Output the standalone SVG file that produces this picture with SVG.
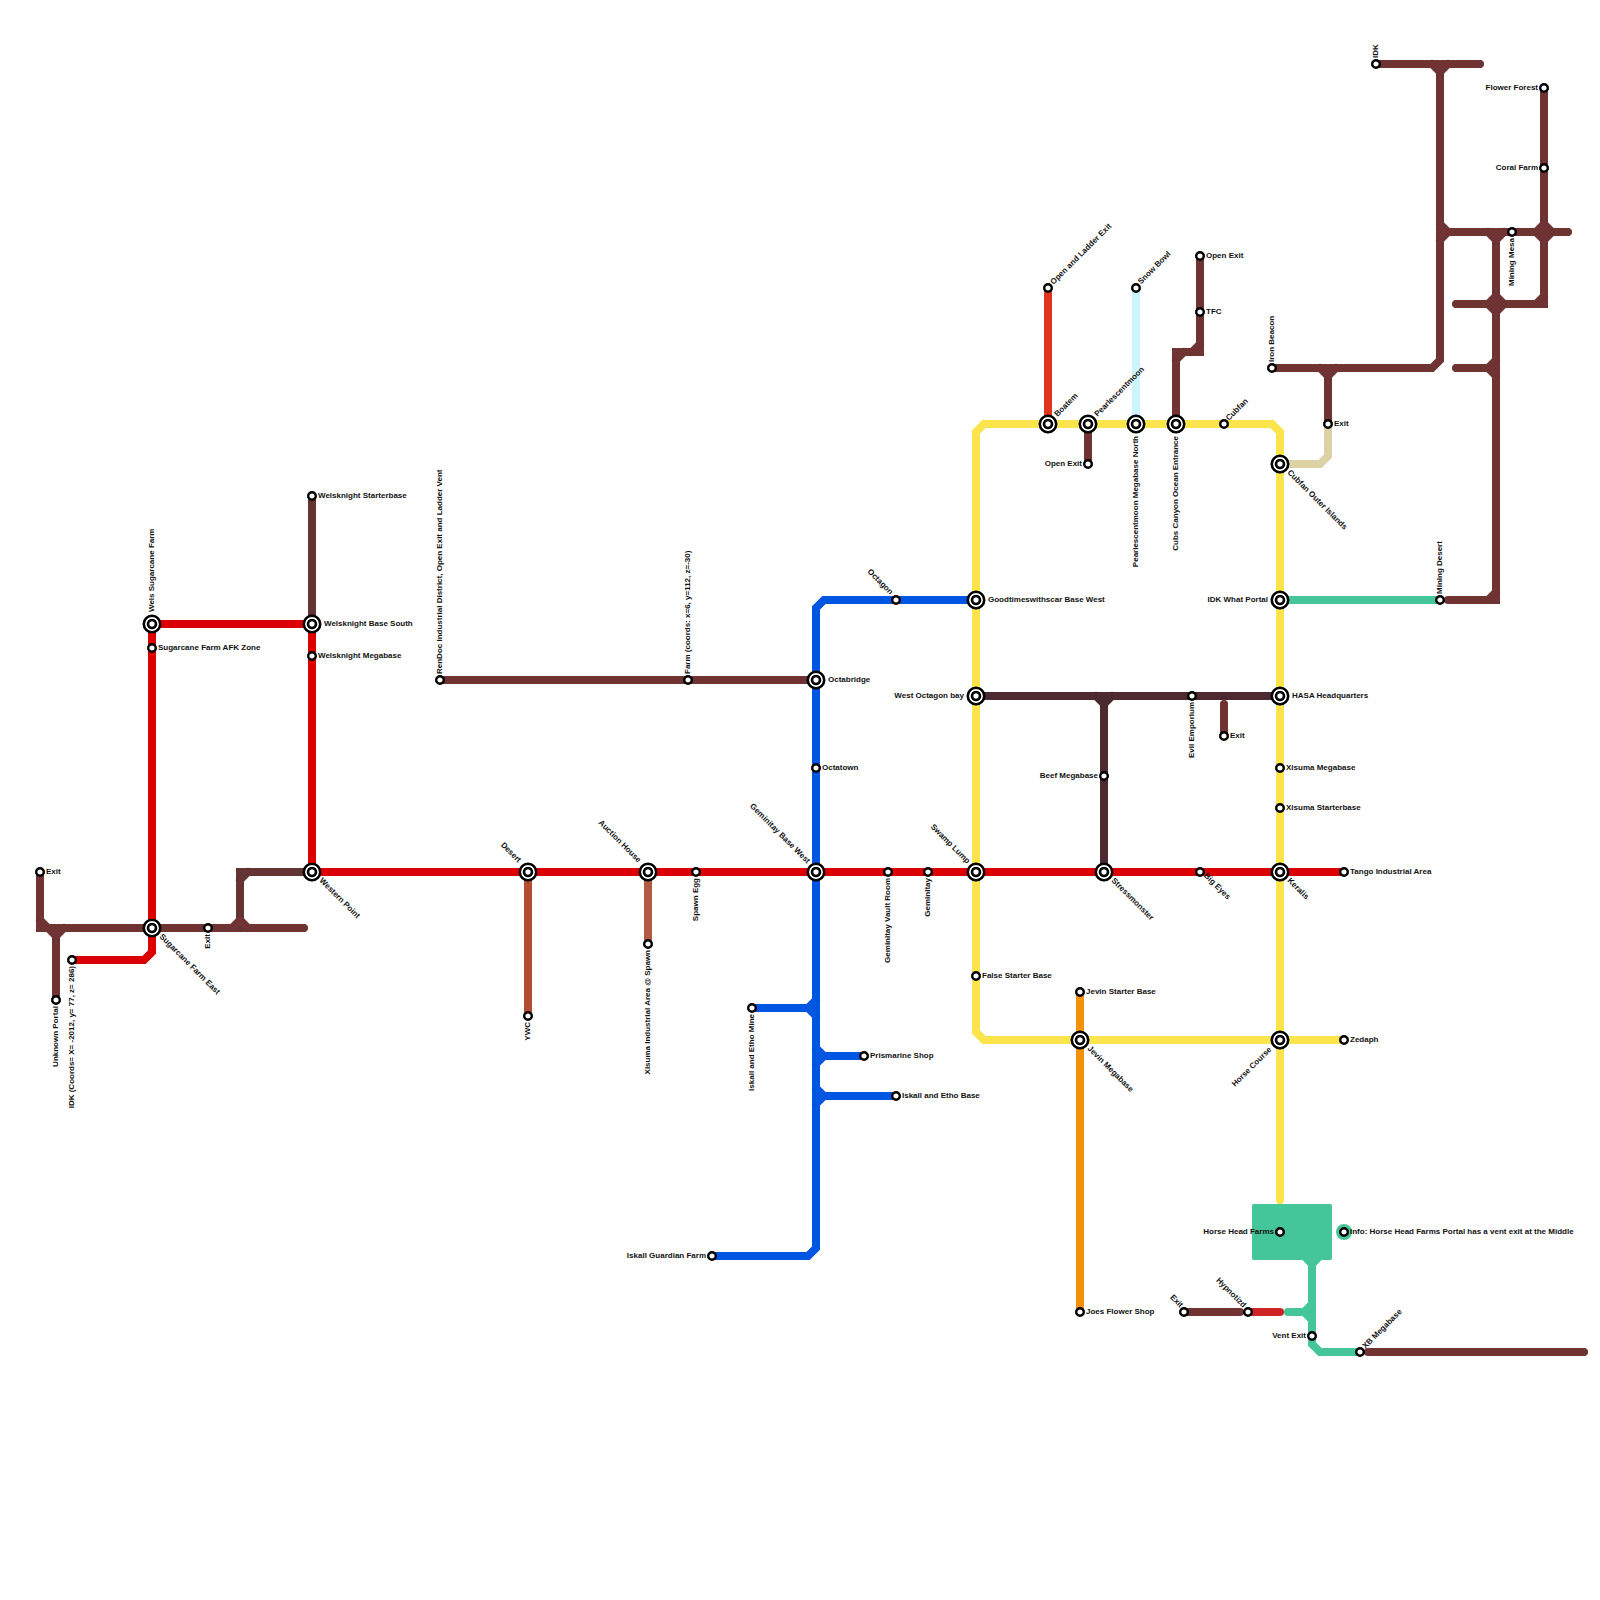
<svg xmlns="http://www.w3.org/2000/svg" width="1600" height="1600" viewBox="0 0 1600 1600">
<style>
text{font-family:"Liberation Sans",Arial,sans-serif;font-size:8px;font-weight:bold;fill:#111}
#connectors path{fill:none;stroke-width:8;stroke-linecap:round;stroke-linejoin:miter}
.br{stroke:#703334}.dbr{stroke:#643334}.rd{stroke:#dc0000}.ye{stroke:#fbe44c}.bl{stroke:#0056e0}.gr{stroke:#45c59a}.tn{stroke:#dcd2a6}.lb{stroke:#ccf5ff}.or{stroke:#f39207}.pl{stroke:#4c2a30}.c1{stroke:#b24f33}.c2{stroke:#b05c45}.c3{stroke:#dd3520}.c4{stroke:#cc2424}
.s{fill:#fff;stroke:#000;stroke-width:2.4}
.i1{fill:#fff;stroke:#000;stroke-width:2.6}
.i2{fill:#fff;stroke:#000;stroke-width:2.6}
</style>
<defs>
<g id="st"><circle class="s" r="3.8"/></g>
<g id="ic"><circle class="i1" r="8.2"/><circle class="i2" r="4"/></g>
</defs>
<g id="connectors">
<path class="lb" d="M1136 288V424"/>
<path class="c3" d="M1048 288V424"/>
<path class="br" d="M1088 424V464"/>
<path class="br" d="M1200 256V352H1176V424M1192 352L1200 344M1176 360L1184 352"/>
<path class="tn" d="M1280 464H1320L1328 456V424"/>
<path class="ye" d="M1344 1040H984L976 1032V432L984 424H1272L1280 432V1200"/>
<path class="rd" d="M72 960H144L152 952V624H312V872H1344"/>
<path class="br" d="M40 872V928H304M40 920L48 928M56 1000V928M48 928L56 936L64 928"/>
<path class="dbr" d="M312 872H240V928M240 880L248 872"/>
<path class="br" d="M232 928L240 920L248 928"/>
<path class="dbr" d="M312 496V624"/>
<path class="br" d="M440 680H816"/>
<path class="bl" d="M976 600H824L816 608V1248L808 1256H712"/>
<path class="bl" d="M752 1008H816M808 1008L816 1000M808 1008L816 1016M816 1056H864M816 1048L824 1056L816 1064M816 1096H896M816 1088L824 1096L816 1104"/>
<path class="c1" d="M528 872V1016"/>
<path class="c2" d="M648 872V944"/>
<path class="or" d="M1080 992V1312"/>
<path class="pl" d="M976 696H1280M1104 696V872M1096 696L1104 704L1112 696"/>
<path class="br" d="M1224 704V736"/>
<path class="gr" d="M1280 600H1440"/>
<path class="br" d="M1272 368H1432L1440 360V64M1376 64H1480M1432 64L1440 72L1448 64M1328 368V424M1320 368L1328 376L1336 368"/>
<path class="br" d="M1440 232H1568M1440 224L1448 232L1440 240M1544 88V304H1456M1536 304L1544 296M1536 232L1544 224L1552 232L1544 240Z"/>
<path class="br" d="M1448 600H1496V232M1488 600L1496 592M1488 232L1496 240L1504 232M1488 304L1496 296L1504 304L1496 312ZM1456 368H1496M1488 368L1496 360M1488 368L1496 376"/>
<path class="br" d="M1184 1312H1240"/>
<path class="c4" d="M1248 1312H1280"/>
<path class="gr" d="M1312 1256V1344L1320 1352H1360M1304 1256L1312 1264L1320 1256M1288 1312H1312M1304 1312L1312 1304M1304 1312L1312 1320"/>
<path class="br" d="M1368 1352H1584"/>
</g>
<rect x="1252" y="1204" width="80" height="56" rx="2" fill="#45c59a"/>
<circle cx="1344" cy="1232" r="8" fill="#45c59a"/>
<g id="stations">
<g id="n1"><use href="#st" x="40" y="872"/><text x="46" y="873.5">Exit</text></g>
<g id="n2"><use href="#ic" x="152" y="928"/><text transform="translate(159 937) rotate(45)">Sugarcane Farm East</text></g>
<g id="n3"><use href="#st" x="208" y="928"/><text transform="translate(209.500 934) rotate(-90)" text-anchor="end">Exit</text></g>
<g id="n4"><use href="#ic" x="312" y="872"/><text transform="translate(319 881) rotate(45)">Western Point</text></g>
<g id="n5"><use href="#st" x="56" y="1000"/><text transform="translate(57.500 1006) rotate(-90)" text-anchor="end">Unknown Portal</text></g>
<g id="n6"><use href="#st" x="72" y="960"/><text transform="translate(73.500 966) rotate(-90)" text-anchor="end">IDK (Coords= X= -2012, y= 77, z= 286)</text></g>
<g id="n7"><use href="#ic" x="152" y="624"/><text transform="translate(153.500 612) rotate(-90)">Wels Sugarcane Farm</text></g>
<g id="n8"><use href="#st" x="152" y="648"/><text x="158" y="649.500">Sugarcane Farm AFK Zone</text></g>
<g id="n9"><use href="#ic" x="312" y="624"/><text x="324" y="625.500">Welsknight Base South</text></g>
<g id="n10"><use href="#st" x="312" y="656"/><text x="318" y="657.500">Welsknight Megabase</text></g>
<g id="n11"><use href="#st" x="312" y="496"/><text x="318" y="497.500">Welsknight Starterbase</text></g>
<g id="n12"><use href="#st" x="440" y="680"/><text transform="translate(441.500 674) rotate(-90)">RenDoc Industrial District, Open Exit and Ladder Vent</text></g>
<g id="n13"><use href="#st" x="688" y="680"/><text transform="translate(689.500 674) rotate(-90)">Farm (coords: x=6, y=112, z=-30)</text></g>
<g id="n14"><use href="#ic" x="816" y="680"/><text x="828" y="681.500">Octabridge</text></g>
<g id="n15"><use href="#st" x="816" y="768"/><text x="822" y="769.500">Octatown</text></g>
<g id="n16"><use href="#ic" x="816" y="872"/><text transform="translate(807 864) rotate(45)" text-anchor="end">Geminitay Base West</text></g>
<g id="n17"><use href="#ic" x="528" y="872"/><text transform="translate(518 863) rotate(45)" text-anchor="end">Desert</text></g>
<g id="n18"><use href="#ic" x="648" y="872"/><text transform="translate(638 863) rotate(45)" text-anchor="end">Auction House</text></g>
<g id="n19"><use href="#st" x="696" y="872"/><text transform="translate(697.500 878) rotate(-90)" text-anchor="end">Spawn Egg</text></g>
<g id="n20"><use href="#st" x="528" y="1016"/><text transform="translate(529.500 1022) rotate(-90)" text-anchor="end">YWC</text></g>
<g id="n21"><use href="#st" x="648" y="944"/><text transform="translate(649.500 950) rotate(-90)" text-anchor="end">Xisuma Industrial Area @ Spawn</text></g>
<g id="n22"><use href="#st" x="888" y="872"/><text transform="translate(889.500 878) rotate(-90)" text-anchor="end">Geminitay Vault Room</text></g>
<g id="n23"><use href="#st" x="928" y="872"/><text transform="translate(929.500 878) rotate(-90)" text-anchor="end">Geminitay</text></g>
<g id="n24"><use href="#ic" x="976" y="872"/><text transform="translate(967 864) rotate(45)" text-anchor="end">Swamp Lump</text></g>
<g id="n25"><use href="#ic" x="1104" y="872"/><text transform="translate(1111 881) rotate(45)">Stressmonster</text></g>
<g id="n26"><use href="#st" x="1200" y="872"/><text transform="translate(1203.500 876) rotate(45)">Big Eyes</text></g>
<g id="n27"><use href="#ic" x="1280" y="872"/><text transform="translate(1287 881) rotate(45)">Keralis</text></g>
<g id="n28"><use href="#st" x="1344" y="872"/><text x="1350" y="873.500">Tango Industrial Area</text></g>
<g id="n29"><use href="#st" x="976" y="976"/><text x="982" y="977.500">False Starter Base</text></g>
<g id="n30"><use href="#st" x="1080" y="992"/><text x="1086" y="993.500">Jevin Starter Base</text></g>
<g id="n31"><use href="#ic" x="1080" y="1040"/><text transform="translate(1087 1049) rotate(45)">Jevin Megabase</text></g>
<g id="n32"><use href="#st" x="1080" y="1312"/><text x="1086" y="1313.500">Joes Flower Shop</text></g>
<g id="n33"><use href="#ic" x="1280" y="1040"/><text transform="translate(1272 1050) rotate(-45)" text-anchor="end">Horse Course</text></g>
<g id="n34"><use href="#st" x="1344" y="1040"/><text x="1350" y="1041.500">Zedaph</text></g>
<g id="n35"><use href="#st" x="1280" y="1232"/><text x="1274" y="1233.500" text-anchor="end">Horse Head Farms</text></g>
<g id="n36"><use href="#st" x="1344" y="1232"/><text x="1350" y="1233.500">Info: Horse Head Farms Portal has a vent exit at the Middle</text></g>
<g id="n37"><use href="#st" x="1312" y="1336"/><text x="1306" y="1337.500" text-anchor="end">Vent Exit</text></g>
<g id="n38"><use href="#st" x="1360" y="1352"/><text transform="translate(1365.500 1349) rotate(-45)">XB Megabase</text></g>
<g id="n39"><use href="#st" x="1248" y="1312"/><text transform="translate(1243 1308) rotate(45)" text-anchor="end">Hypnotizd</text></g>
<g id="n40"><use href="#st" x="1184" y="1312"/><text transform="translate(1180 1308) rotate(45)" text-anchor="end">Exit</text></g>
<g id="n41"><use href="#st" x="712" y="1256"/><text x="706" y="1257.500" text-anchor="end">Iskall Guardian Farm</text></g>
<g id="n42"><use href="#st" x="752" y="1008"/><text transform="translate(753.500 1014) rotate(-90)" text-anchor="end">Iskall and Etho Mine</text></g>
<g id="n43"><use href="#st" x="864" y="1056"/><text x="870" y="1057.500">Prismarine Shop</text></g>
<g id="n44"><use href="#st" x="896" y="1096"/><text x="902" y="1097.500">Iskall and Etho Base</text></g>
<g id="n45"><use href="#st" x="896" y="600"/><text transform="translate(890 595) rotate(45)" text-anchor="end">Octagon</text></g>
<g id="n46"><use href="#ic" x="976" y="600"/><text x="988" y="601.500">Goodtimeswithscar Base West</text></g>
<g id="n47"><use href="#ic" x="976" y="696"/><text x="964" y="697.500" text-anchor="end">West Octagon bay</text></g>
<g id="n48"><use href="#ic" x="1280" y="696"/><text x="1292" y="697.500">HASA Headquarters</text></g>
<g id="n49"><use href="#ic" x="1280" y="600"/><text x="1268" y="601.500" text-anchor="end">IDK What Portal</text></g>
<g id="n50"><use href="#ic" x="1280" y="464"/><text transform="translate(1287 473) rotate(45)">Cubfan Outer Islands</text></g>
<g id="n51"><use href="#st" x="1280" y="768"/><text x="1286" y="769.500">Xisuma Megabase</text></g>
<g id="n52"><use href="#st" x="1280" y="808"/><text x="1286" y="809.500">Xisuma Starterbase</text></g>
<g id="n53"><use href="#st" x="1104" y="776"/><text x="1098" y="777.500" text-anchor="end">Beef Megabase</text></g>
<g id="n54"><use href="#st" x="1192" y="696"/><text transform="translate(1193.500 702) rotate(-90)" text-anchor="end">Evil Emporium</text></g>
<g id="n55"><use href="#st" x="1224" y="736"/><text x="1230" y="737.500">Exit</text></g>
<g id="n56"><use href="#st" x="1440" y="600"/><text transform="translate(1441.500 594) rotate(-90)">Mining Desert</text></g>
<g id="n57"><use href="#ic" x="1048" y="424"/><text transform="translate(1057.500 417) rotate(-45)">Boatem</text></g>
<g id="n58"><use href="#ic" x="1088" y="424"/><text transform="translate(1097.500 417) rotate(-45)">Pearlescentmoon</text></g>
<g id="n59"><use href="#st" x="1088" y="464"/><text x="1082" y="465.500" text-anchor="end">Open Exit</text></g>
<g id="n60"><use href="#ic" x="1136" y="424"/><text transform="translate(1137.500 436) rotate(-90)" text-anchor="end">Pearlescentmoon Megabase North</text></g>
<g id="n61"><use href="#ic" x="1176" y="424"/><text transform="translate(1177.500 436) rotate(-90)" text-anchor="end">Cubs Canyon Ocean Entrance</text></g>
<g id="n62"><use href="#st" x="1224" y="424"/><text transform="translate(1229 421) rotate(-45)">Cubfan</text></g>
<g id="n63"><use href="#st" x="1048" y="288"/><text transform="translate(1053.500 285) rotate(-45)">Open and Ladder Exit</text></g>
<g id="n64"><use href="#st" x="1136" y="288"/><text transform="translate(1141 284.500) rotate(-45)">Snow Bowl</text></g>
<g id="n65"><use href="#st" x="1200" y="256"/><text x="1206" y="257.500">Open Exit</text></g>
<g id="n66"><use href="#st" x="1200" y="312"/><text x="1206" y="313.500">TFC</text></g>
<g id="n67"><use href="#st" x="1272" y="368"/><text transform="translate(1273.500 362) rotate(-90)">Iron Beacon</text></g>
<g id="n68"><use href="#st" x="1328" y="424"/><text x="1334" y="425.500">Exit</text></g>
<g id="n69"><use href="#st" x="1376" y="64"/><text transform="translate(1377.500 58) rotate(-90)">IDK</text></g>
<g id="n70"><use href="#st" x="1544" y="88"/><text x="1538" y="89.500" text-anchor="end">Flower Forest</text></g>
<g id="n71"><use href="#st" x="1544" y="168"/><text x="1538" y="169.500" text-anchor="end">Coral Farm</text></g>
<g id="n72"><use href="#st" x="1512" y="232"/><text transform="translate(1513.500 238) rotate(-90)" text-anchor="end">Mining Mesa</text></g>
</g>
</svg>
